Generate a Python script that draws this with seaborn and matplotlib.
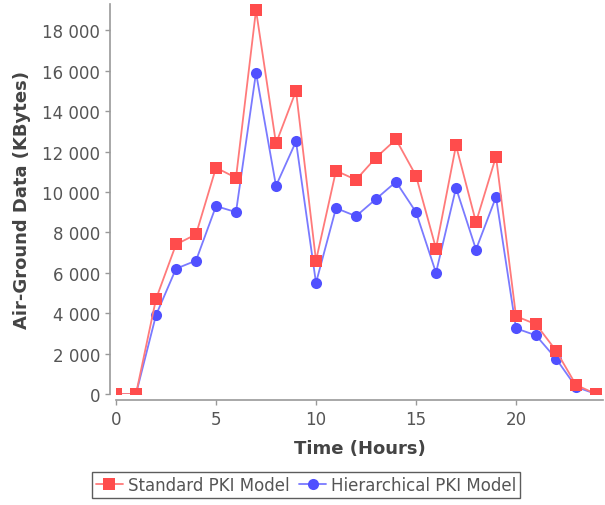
import pandas as pd
import seaborn as sns
import matplotlib.pyplot as plt
from matplotlib.ticker import FuncFormatter

# hours 0..24
hours = list(range(0, 25))
standard_pki = [0, 0, 4700, 7400, 7900, 11200, 10700, 19000, 12400, 15000,
                6600, 11050, 10600, 11700, 12600, 10800, 7200, 12300, 8500,
                11750, 3850, 3450, 2150, 450, 0]
hierarchical_pki = [0, 0, 3900, 6200, 6600, 9300, 9000, 15900, 10300, 12500,
                    5500, 9200, 8800, 9650, 10500, 9000, 6000, 10200, 7150,
                    9750, 3250, 2900, 1750, 350, 0]

series_names = ["Standard PKI Model", "Hierarchical PKI Model"]
marker_colors = {series_names[0]: "#ff4c4c", series_names[1]: "#5050ff"}
line_colors = ["#ff7a7a", "#7a7aff"]

df = pd.DataFrame({
    "hour": hours * 2,
    "data": standard_pki + hierarchical_pki,
    "model": [series_names[0]] * len(hours) + [series_names[1]] * len(hours),
})

sns.set_style("ticks")
plt.rcParams['font.family'] = ['DejaVu Sans']

fig = plt.figure(figsize=(6.05, 5.06), dpi=100)
ax = fig.add_axes([116 / 605, 1 - 395 / 506, (603 - 116) / 605, (395 - 5) / 506])

sns.lineplot(data=df, x="hour", y="data", hue="model", style="model",
             hue_order=series_names, style_order=series_names,
             palette=marker_colors,
             markers={series_names[0]: "s", series_names[1]: "o"},
             dashes=False, markersize=8, markeredgewidth=0, linewidth=1.3,
             ax=ax)

# lighter connecting lines, solid markers; red series on top
for line, name, lc in zip(ax.lines[:2], series_names, line_colors):
    line.set_markerfacecolor(marker_colors[name])
    line.set_markeredgecolor(marker_colors[name])
    line.set_color(lc)
ax.lines[0].set_zorder(3)

ax.set_xlim(0, 24.35)
ax.set_ylim(0, 19300)
ax.set_xticks([0, 5, 10, 15, 20])
ax.set_yticks(range(0, 18001, 2000))
ax.yaxis.set_major_formatter(FuncFormatter(lambda v, p: f"{int(v):,}".replace(",", " ")))

sns.despine(ax=ax, offset=4.5)
for side in ["left", "bottom"]:
    ax.spines[side].set_color("#999999")
    ax.spines[side].set_linewidth(1.2)
ax.tick_params(colors="#999999", labelcolor="#555555", labelsize=12, length=3.5, width=1)

ax.set_xlabel("Time (Hours)", fontsize=13, fontweight="bold", color="#444444", labelpad=8)
ax.set_ylabel("Air-Ground Data (KBytes)", fontsize=13, fontweight="bold", color="#444444", labelpad=8)

sns.move_legend(ax, "upper center", bbox_to_anchor=(306 / 605, 1 - 473 / 506),
                bbox_transform=fig.transFigure, ncol=2, title=None, frameon=True,
                fancybox=False, edgecolor="#333333", fontsize=12,
                handlelength=1.6, handletextpad=0.3, columnspacing=0.6,
                borderpad=0.25, borderaxespad=0)
leg = ax.get_legend()
leg.get_frame().set_linewidth(1.0)
for t in leg.get_texts():
    t.set_color("#555555")
for h, name, lc in zip(leg.legend_handles, series_names, line_colors):
    h.set_color(lc)
    h.set_markerfacecolor(marker_colors[name])
    h.set_markeredgecolor(marker_colors[name])

fig.savefig("out.png", dpi=100)
